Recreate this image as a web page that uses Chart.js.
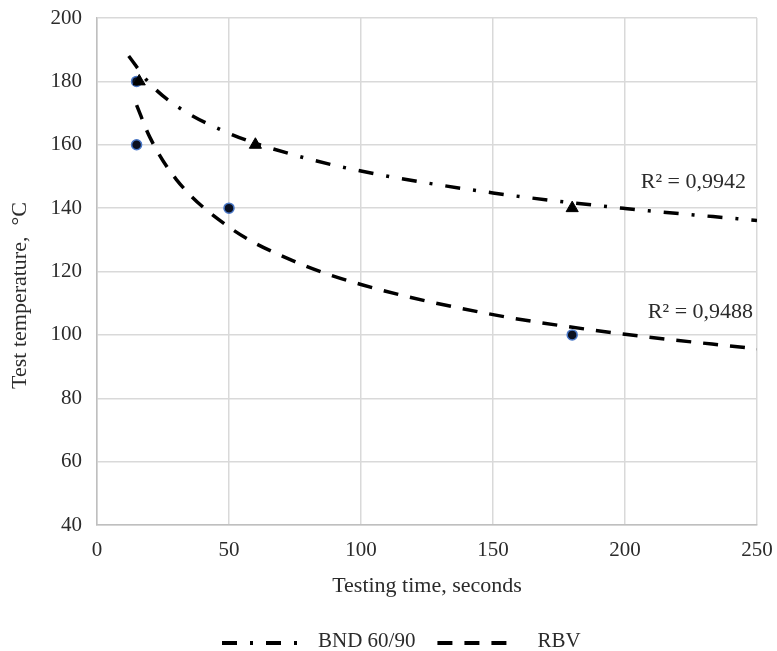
<!DOCTYPE html>
<html>
<head>
<meta charset="utf-8">
<script src="https://cdn.jsdelivr.net/npm/chart.js@4.4.0/dist/chart.umd.min.js"></script>
<style>
  html, body { margin: 0; padding: 0; background: #fff; }
  #wrap { width: 777px; height: 651px; }
</style>
</head>
<body>
<div id="wrap"><canvas id="tempChart"></canvas></div>
<script>
// measured points
const bndTime = [16, 60, 180];
const bndTemp = [180, 160, 140];
const rbvTime = [15, 15, 50, 180];
const rbvTemp = [180, 160, 140, 100];

// trend curves
const bndTrendTime = [12, 20, 30, 50, 75, 100, 150, 200, 250];
const bndTrendTemp = [188, 179.3, 172.3, 163.6, 156.7, 151.7, 144.8, 139.9, 136.1];
const rbvTrendTime = [15, 20, 30, 50, 75, 100, 150, 200, 250];
const rbvTrendTemp = [172.5, 162.4, 149.1, 134, 123.1, 115.9, 106.4, 100.2, 95.6];

const seriesNames = ['BND 60/90', 'RBV'];
const r2Labels = ['R² = 0,9942', 'R² = 0,9488'];
const r2Anchor = [[245.8, 148.3], [248.5, 107.3]];

const xTitle = 'Testing time, seconds';
const yTitle = 'Test temperature,  °C';

const toXY = (xs, ys) => xs.map((x, i) => ({ x: x, y: ys[i] }));

const dashDot = [15, 13, 3, 13];
const dashed = [15, 12];

const serif = 'Liberation Serif';
const textColor = '#2b2b2b';

// R² texts, y title and the legend, drawn on the chart canvas
const extrasPlugin = {
    id: 'extras',
    afterDatasetsDraw(chart) {
        const { ctx, scales, chartArea } = chart;
        ctx.save();
        ctx.fillStyle = textColor;

        ctx.font = '22px "' + serif + '"';
        ctx.textAlign = 'right';
        ctx.textBaseline = 'middle';
        r2Labels.forEach((txt, i) => {
            ctx.fillText(txt, scales.x.getPixelForValue(r2Anchor[i][0]), scales.y.getPixelForValue(r2Anchor[i][1]));
        });

        // y axis title (sits a bit below the middle, like the original)
        ctx.save();
        ctx.translate(20, (chartArea.top + chartArea.bottom) / 2 + 24);
        ctx.rotate(-Math.PI / 2);
        ctx.textAlign = 'center';
        ctx.font = '22px "' + serif + '"';
        ctx.fillText(yTitle, 0, 0);
        ctx.restore();

        // legend
        ctx.font = '21px "' + serif + '"';
        ctx.textAlign = 'left';
        ctx.textBaseline = 'middle';
        const y = 641;
        let x = chartArea.left + 125;
        chart.data.datasets.slice(0, 2).forEach((ds, i) => {
            ctx.save();
            ctx.strokeStyle = ds.borderColor;
            ctx.lineWidth = 4;
            ctx.setLineDash(ds.borderDash);
            ctx.beginPath();
            ctx.moveTo(x, y + 2);
            ctx.lineTo(x + 78, y + 2);
            ctx.stroke();
            ctx.restore();
            x += 78 + 18 + (i * 4);
            ctx.fillText(ds.label, x, y);
            x += ctx.measureText(ds.label).width + 22;
        });
        ctx.restore();
    }
};

const ctx = document.getElementById('tempChart').getContext('2d');
new Chart(ctx, {
    type: 'scatter',
    data: {
        datasets: [
            {
                label: seriesNames[0],
                data: toXY(bndTrendTime, bndTrendTemp),
                showLine: true,
                borderColor: '#000',
                borderWidth: 3.5,
                borderDash: dashDot,
                pointRadius: 0,
                cubicInterpolationMode: 'monotone',
                fill: false
            },
            {
                label: seriesNames[1],
                data: toXY(rbvTrendTime, rbvTrendTemp),
                showLine: true,
                borderColor: '#000',
                borderWidth: 3.5,
                borderDash: dashed,
                pointRadius: 0,
                cubicInterpolationMode: 'monotone',
                fill: false
            },
            {
                label: 'bnd points',
                data: toXY(bndTime, bndTemp),
                pointStyle: 'triangle',
                pointRadius: 7,
                backgroundColor: '#000',
                borderColor: '#000',
                borderWidth: 1
            },
            {
                label: 'rbv points',
                data: toXY(rbvTime, rbvTemp),
                pointStyle: 'circle',
                pointRadius: 5,
                backgroundColor: '#0a1020',
                borderColor: '#4a78c8',
                borderWidth: 1.5
            }
        ]
    },
    options: {
        responsive: true,
        maintainAspectRatio: false,
        animation: false,
        layout: { padding: { top: 18, right: 20, left: 0, bottom: 48 } },
        plugins: {
            tooltip: { enabled: false },
            legend: { display: false }
        },
        scales: {
            x: {
                type: 'linear',
                min: 0,
                max: 250,
                ticks: { stepSize: 50, color: textColor, font: { family: serif, size: 21 }, padding: 13 },
                grid: { color: '#d9d9d9', lineWidth: 1.5, drawTicks: false },
                border: { color: '#bfbfbf', width: 1.5 },
                title: { display: true, text: xTitle, color: textColor, font: { family: serif, size: 22 }, padding: { top: 0, bottom: 4 } },
                afterFit: scale => {
                    scale.height = 78;
                    scale.paddingLeft = 0;
                    scale.paddingRight = 0;
                }
            },
            y: {
                min: 40,
                max: 200,
                ticks: { stepSize: 20, color: textColor, font: { family: serif, size: 21 }, padding: 15 },
                grid: { color: '#d9d9d9', lineWidth: 1.5, drawTicks: false },
                border: { color: '#bfbfbf', width: 1.5 },
                afterFit: scale => {
                    scale.width = 97;
                    scale.paddingTop = 0;
                    scale.paddingBottom = 0;
                }
            }
        }
    },
    plugins: [extrasPlugin]
});
</script>
</body>
</html>
